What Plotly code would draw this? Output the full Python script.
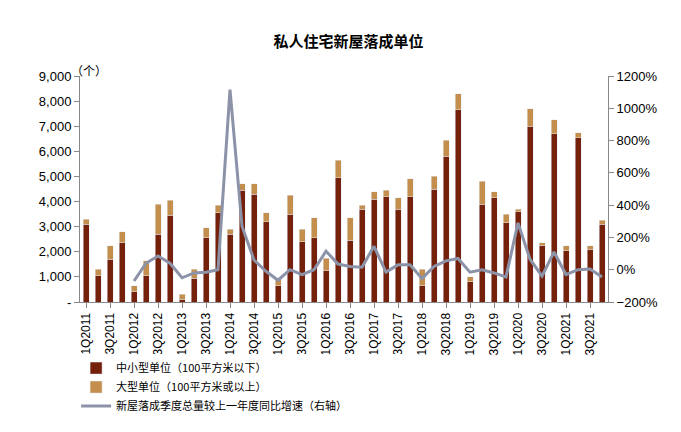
import plotly.graph_objects as go

quarters = [f"{q}Q{y}" for y in range(2011, 2022) for q in range(1, 5)]
small = [3100,1050,1700,2350,400,1050,2700,3450,100,950,2550,3550,2700,4450,4300,3200,650,3500,2400,2550,
         1250,4950,2450,3700,4100,4200,3700,4200,650,4500,5800,7650,800,3900,4150,3150,3600,7000,2250,6700,
         2050,6550,2100,3100]
total = [3300,1300,2250,2800,650,1650,3900,4050,300,1300,2950,3850,2900,4700,4700,3550,900,4250,2900,3350,
         1750,5650,3350,3850,4400,4450,4150,4900,1300,5000,6450,8300,1000,4800,4400,3500,3700,7700,2350,7250,
         2250,6750,2250,3250]
large = [t - s for t, s in zip(total, small)]
growth = [None,None,None,None,-70,40,85,40,-50,-20,-15,0,1115,270,60,-10,-65,0,-30,0,
          115,35,20,15,145,-15,30,30,-55,20,55,70,-15,0,-20,-45,290,65,-40,110,-30,0,5,-45]
growth = [None if g is None else g/100 for g in growth]

fig = go.Figure()
fig.add_bar(x=quarters, y=small, name="中小型单位（100平方米以下）", marker_color="#74200A", width=0.5)
fig.add_bar(x=quarters, y=large, name="大型单位（100平方米或以上）", marker_color="#C48E4C", width=0.5)
fig.add_scatter(x=quarters, y=growth, name="新屋落成季度总量较上一年度同比增速（右轴）", yaxis="y2",
                mode="lines", line=dict(color="#8C93A8", width=3))

fig.update_layout(
    barmode="stack", width=681, height=432, plot_bgcolor="white", paper_bgcolor="white",
    font=dict(family="Noto Sans CJK SC, Arial", size=12, color="black"),
    title=dict(text="<b>私人住宅新屋落成单位</b>", x=0.5, y=0.935, xanchor="center", font=dict(size=15)),
    margin=dict(l=72, r=81, t=68, b=138, autoexpand=False),
    xaxis=dict(tickmode="array", tickvals=quarters[::2], ticktext=quarters[::2], tickangle=-90,
               showline=True, linecolor="#888", ticks="outside", ticklen=5, tickcolor="#888",
               tickfont=dict(family="Arial", size=12)),
    yaxis=dict(range=[0, 9000], showline=True, linecolor="#888",
               ticks="outside", tickcolor="#888", showgrid=False, zeroline=False,
               tickfont=dict(family="Arial", size=13), tickvals=list(range(0, 9001, 1000)),
               ticktext=["-"] + [f"{v:,}" for v in range(1000, 9001, 1000)]),
    yaxis2=dict(overlaying="y", side="right", range=[-2, 12], dtick=2, tickformat=".0%",
                showline=True, linecolor="#888", ticks="outside", tickcolor="#888", showgrid=False,
                zeroline=False, tickfont=dict(family="Arial", size=13)),
    legend=dict(orientation="h", x=0.1, xref="container", y=0.2, yref="container",
                xanchor="left", yanchor="top", traceorder="normal",
                entrywidth=290, font=dict(size=11)),
    showlegend=True,
)
fig.add_annotation(text="（个）", xref="paper", yref="paper", x=-0.02, y=1.07, showarrow=False,
                   xanchor="left", font=dict(size=12))
fig.write_html("out.html")
